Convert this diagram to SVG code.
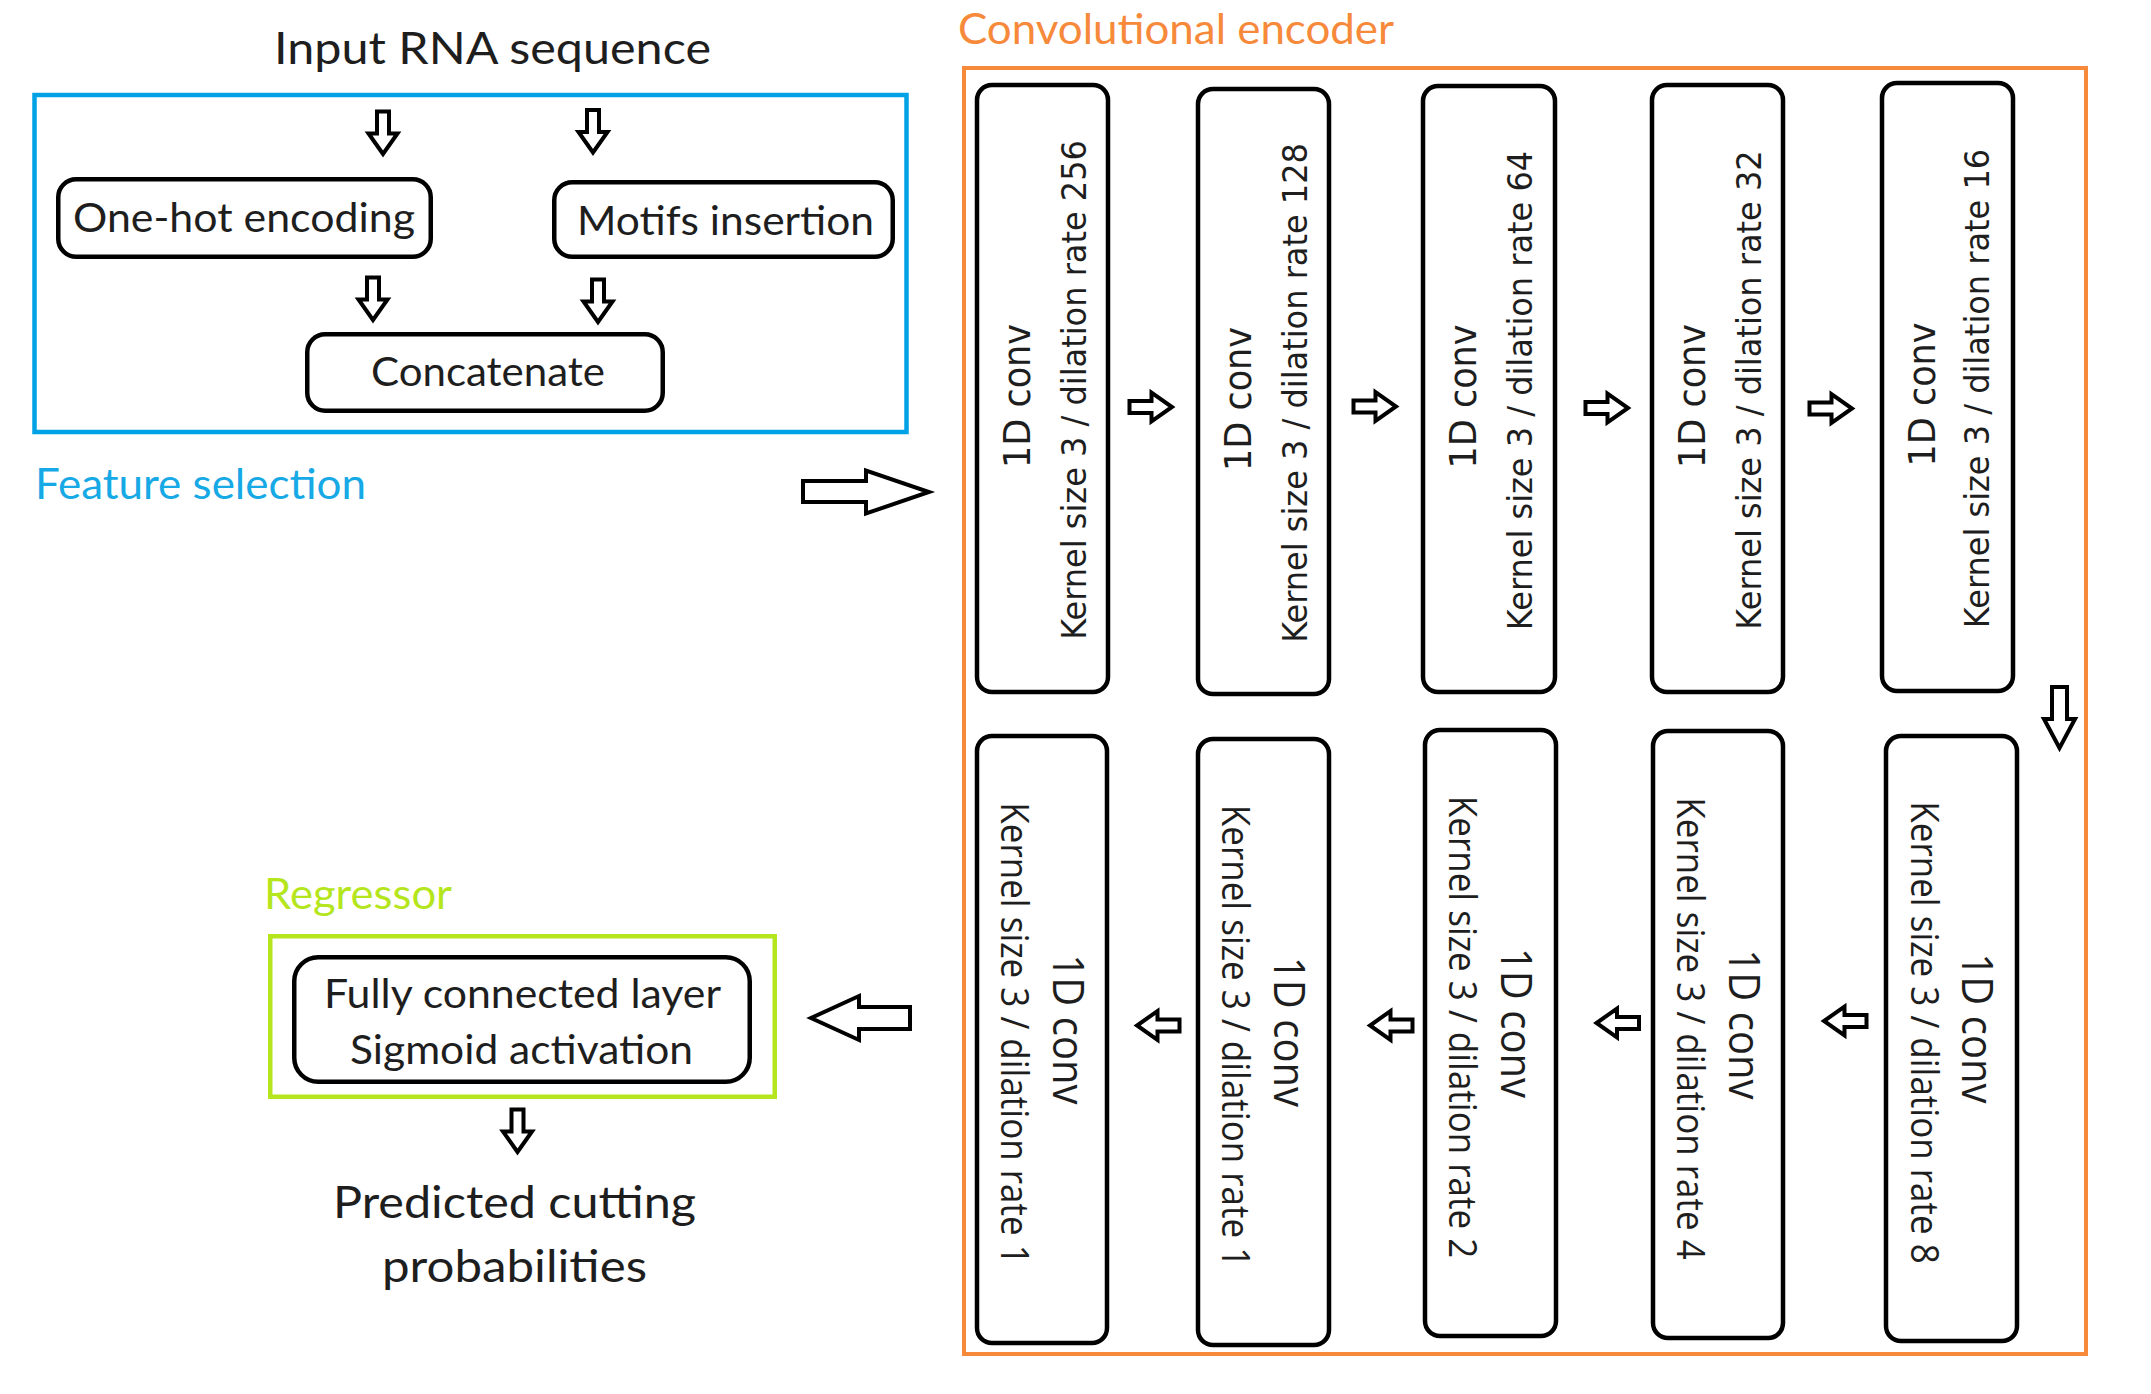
<svg xmlns="http://www.w3.org/2000/svg" xmlns:xlink="http://www.w3.org/1999/xlink" width="2151" height="1394" viewBox="0 0 2151 1394">
<style>
.lbl{font-family:Lato,"Open Sans",sans-serif;fill:#1e1e1e}
.node{fill:#fff;stroke:#000;stroke-width:4.5}
.arr{fill:#fff;stroke:#000;stroke-width:4;stroke-linejoin:miter}
.t1{font-family:"DejaVu Sans",Verdana,sans-serif;font-size:35px;fill:#1e1e1e;text-anchor:middle}
.t2{font-family:"DejaVu Sans",Verdana,sans-serif;font-size:32px;fill:#1e1e1e;text-anchor:middle}
.b1{font-family:"Open Sans",sans-serif;font-size:40px;fill:#1e1e1e;text-anchor:middle}
.b2{font-family:"Open Sans",sans-serif;font-size:35px;fill:#1e1e1e;text-anchor:middle}
</style>
<defs>
<path id="arr" d="M-22,-6 H0 V-14.5 L20.5,0 L0,14.5 V6 H-22 Z"/>
</defs>
<rect width="2151" height="1394" fill="#fff"/>

<g id="feature-selection">
<rect x="34.5" y="95" width="872" height="337" fill="none" stroke="#00A2E6" stroke-width="4.5"/>
<text class="lbl" x="35" y="499" font-size="42" textLength="331" lengthAdjust="spacingAndGlyphs" style="fill:#16A9E5">Feature selection</text>
</g>

<text id="input-title" class="lbl" x="492.5" y="64" font-size="44" text-anchor="middle" textLength="437" lengthAdjust="spacingAndGlyphs">Input RNA sequence</text>

<g id="onehot">
<rect class="node" x="58.25" y="179.25" width="372.5" height="77.5" rx="18"/>
<text class="lbl" x="244" y="231.5" font-size="40" text-anchor="middle" textLength="342" lengthAdjust="spacingAndGlyphs">One-hot encoding</text>
</g>
<g id="motifs">
<rect class="node" x="554.25" y="182.25" width="338.5" height="74.5" rx="18"/>
<text class="lbl" x="725.5" y="235" font-size="40" text-anchor="middle" textLength="297" lengthAdjust="spacingAndGlyphs">Motifs insertion</text>
</g>
<g id="concatenate">
<rect class="node" x="307.25" y="334.25" width="355.5" height="76.5" rx="18"/>
<text class="lbl" x="488" y="386" font-size="40" text-anchor="middle" textLength="234" lengthAdjust="spacingAndGlyphs">Concatenate</text>
</g>

<g id="conv-encoder">
<rect x="964" y="68" width="1122" height="1286" fill="none" stroke="#F7893B" stroke-width="4"/>
<text class="lbl" x="958" y="44" font-size="42" textLength="436" lengthAdjust="spacingAndGlyphs" style="fill:#F7893B">Convolutional encoder</text>
</g>

<g id="conv256">
<rect class="node" x="977" y="85" width="131" height="607" rx="15"/>
<text class="t1" transform="translate(1030,396) rotate(-90) scale(1,1.08)">1D conv</text>
<text class="t2" transform="translate(1086,390) rotate(-90) scale(1,1.08)">Kernel size 3 / dilation rate 256</text>
</g>
<g id="conv128">
<rect class="node" x="1198" y="89" width="131" height="605" rx="15"/>
<text class="t1" transform="translate(1251,399) rotate(-90) scale(1,1.08)">1D conv</text>
<text class="t2" transform="translate(1307,393) rotate(-90) scale(1,1.08)">Kernel size 3 / dilation rate 128</text>
</g>
<g id="conv64">
<rect class="node" x="1423" y="86" width="132" height="606" rx="15"/>
<text class="t1" transform="translate(1476,396.5) rotate(-90) scale(1,1.08)">1D conv</text>
<text class="t2" transform="translate(1532,390.5) rotate(-90) scale(1,1.08)">Kernel size 3 / dilation rate 64</text>
</g>
<g id="conv32">
<rect class="node" x="1652" y="85" width="131" height="607" rx="15"/>
<text class="t1" transform="translate(1705,396) rotate(-90) scale(1,1.08)">1D conv</text>
<text class="t2" transform="translate(1761,390) rotate(-90) scale(1,1.08)">Kernel size 3 / dilation rate 32</text>
</g>
<g id="conv16">
<rect class="node" x="1882" y="83" width="131" height="608" rx="15"/>
<text class="t1" transform="translate(1934.5,394.5) rotate(-90) scale(1,1.08)">1D conv</text>
<text class="t2" transform="translate(1989,388.5) rotate(-90) scale(1,1.08)">Kernel size 3 / dilation rate 16</text>
</g>

<g id="conv8">
<rect class="node" x="1886" y="736" width="131" height="605" rx="15"/>
<text class="b1" transform="translate(1962,1028.5) rotate(90) scale(1,1.08)">1D conv</text>
<text class="b2" transform="translate(1911,1032.5) rotate(90) scale(1,1.08)">Kernel size 3 / dilation rate 8</text>
</g>
<g id="conv4">
<rect class="node" x="1653" y="731" width="130" height="607" rx="15"/>
<text class="b1" transform="translate(1729,1024.5) rotate(90) scale(1,1.08)">1D conv</text>
<text class="b2" transform="translate(1677,1028.5) rotate(90) scale(1,1.08)">Kernel size 3 / dilation rate 4</text>
</g>
<g id="conv2">
<rect class="node" x="1425" y="730" width="131" height="606" rx="15"/>
<text class="b1" transform="translate(1501,1023) rotate(90) scale(1,1.08)">1D conv</text>
<text class="b2" transform="translate(1449,1027) rotate(90) scale(1,1.08)">Kernel size 3 / dilation rate 2</text>
</g>
<g id="conv1b">
<rect class="node" x="1198" y="739" width="131" height="606" rx="15"/>
<text class="b1" transform="translate(1274,1032) rotate(90) scale(1,1.08)">1D conv</text>
<text class="b2" transform="translate(1222,1036) rotate(90) scale(1,1.08)">Kernel size 3 / dilation rate 1</text>
</g>
<g id="conv1a">
<rect class="node" x="977" y="736" width="130" height="607" rx="15"/>
<text class="b1" transform="translate(1053,1029.5) rotate(90) scale(1,1.08)">1D conv</text>
<text class="b2" transform="translate(1001,1033.5) rotate(90) scale(1,1.08)">Kernel size 3 / dilation rate 1</text>
</g>

<g id="regressor">
<rect x="270.25" y="936.25" width="504.5" height="160.5" fill="none" stroke="#B5E61D" stroke-width="4.5"/>
<text class="lbl" x="264" y="909" font-size="42" textLength="188" lengthAdjust="spacingAndGlyphs" style="fill:#B5E61D">Regressor</text>
</g>
<g id="fully-connected">
<rect class="node" x="294.25" y="957.25" width="455.5" height="124.5" rx="24"/>
<text class="lbl" x="522.5" y="1008" font-size="40" text-anchor="middle" textLength="397" lengthAdjust="spacingAndGlyphs">Fully connected layer</text>
<text class="lbl" x="521.5" y="1064" font-size="40" text-anchor="middle" textLength="343" lengthAdjust="spacingAndGlyphs">Sigmoid activation</text>
</g>

<g id="output">
<text class="lbl" x="514.5" y="1218" font-size="44" text-anchor="middle" textLength="363" lengthAdjust="spacingAndGlyphs">Predicted cutting</text>
<text class="lbl" x="514.5" y="1282" font-size="44" text-anchor="middle" textLength="265" lengthAdjust="spacingAndGlyphs">probabilities</text>
</g>

<g id="connectors">
<use href="#arr" xlink:href="#arr" class="arr" transform="translate(383,133.5) rotate(90)"/>
<use href="#arr" xlink:href="#arr" class="arr" transform="translate(593,132) rotate(90)"/>
<use href="#arr" xlink:href="#arr" class="arr" transform="translate(373,299.5) rotate(90)"/>
<use href="#arr" xlink:href="#arr" class="arr" transform="translate(598,301.5) rotate(90)"/>
<path class="arr" d="M803,481 H866 V470.5 L929,492 L866,513.5 V502 H803 Z"/>
<use href="#arr" xlink:href="#arr" class="arr" transform="translate(1151.5,407)"/>
<use href="#arr" xlink:href="#arr" class="arr" transform="translate(1375.5,406.5)"/>
<use href="#arr" xlink:href="#arr" class="arr" transform="translate(1607.5,408)"/>
<use href="#arr" xlink:href="#arr" class="arr" transform="translate(1831.5,408.5)"/>
<path class="arr" d="M2052,687 H2067 V719 H2075 L2059.5,748 L2044,719 H2052 Z"/>
<use href="#arr" xlink:href="#arr" class="arr" transform="translate(1844.5,1021) rotate(180)"/>
<use href="#arr" xlink:href="#arr" class="arr" transform="translate(1617,1023) rotate(180)"/>
<use href="#arr" xlink:href="#arr" class="arr" transform="translate(1390.5,1025.5) rotate(180)"/>
<use href="#arr" xlink:href="#arr" class="arr" transform="translate(1157.5,1025.5) rotate(180)"/>
<path class="arr" d="M910,1007 H859 V996 L811,1018 L859,1040 V1029 H910 Z"/>
<use href="#arr" xlink:href="#arr" class="arr" transform="translate(517.5,1131.5) rotate(90)"/>
</g>
</svg>
